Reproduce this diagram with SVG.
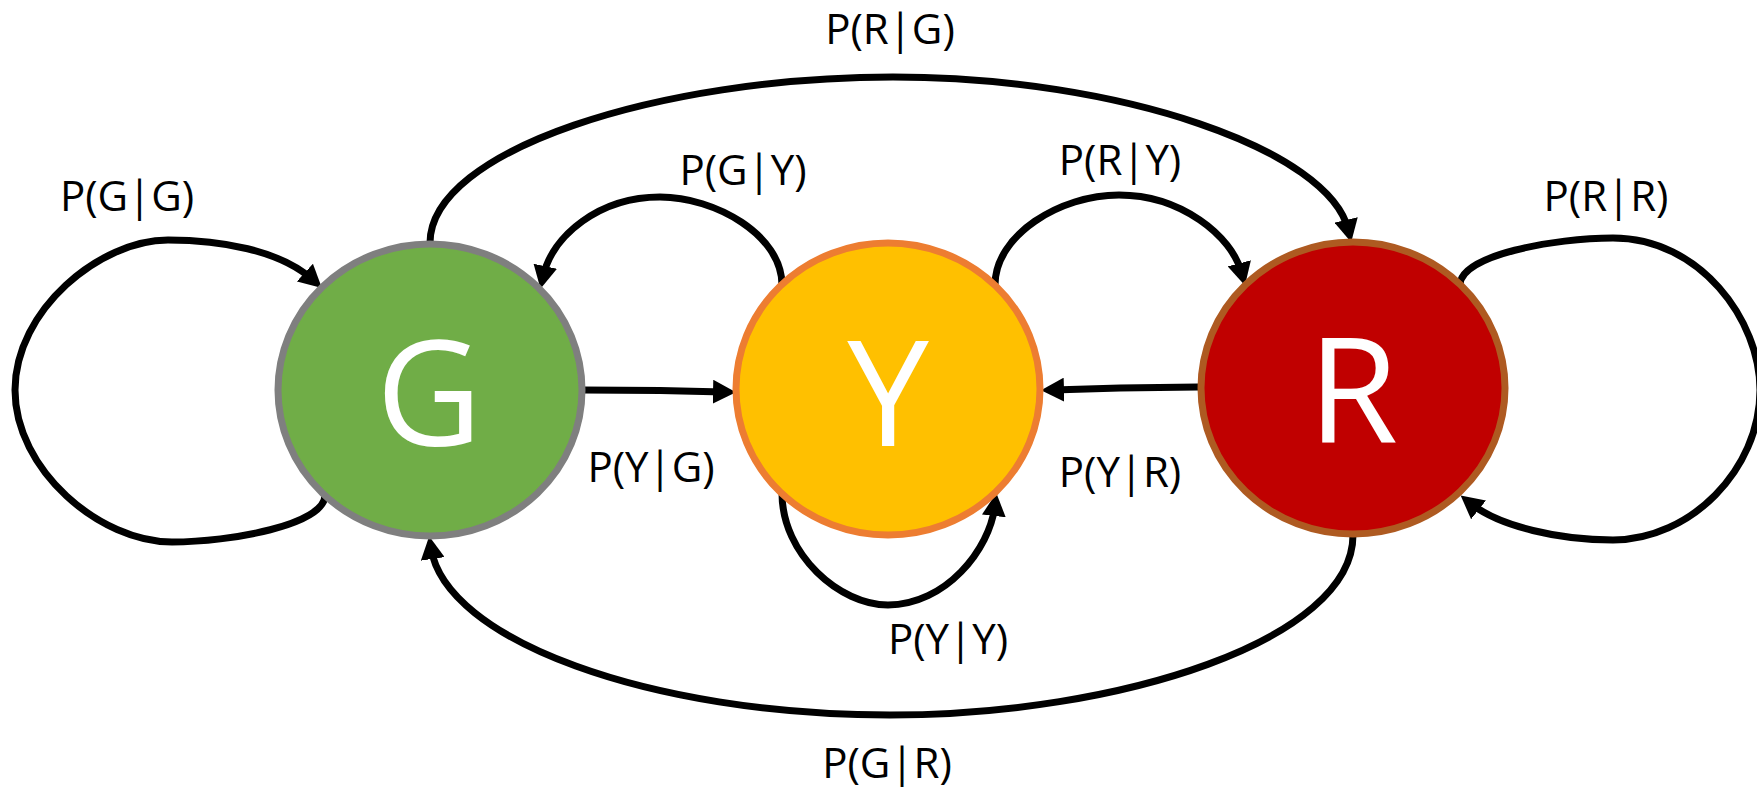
<svg xmlns="http://www.w3.org/2000/svg" width="1757" height="787" viewBox="0 0 1757 787">
<style>
.lbl{font-family:"Open Sans","Noto Sans",sans-serif;font-size:42px;fill:#000;text-anchor:middle}
.big{font-family:"Open Sans","Noto Sans",sans-serif;font-size:146px;fill:#fff;text-anchor:middle}
.edge{fill:none;stroke:#000;stroke-width:7;marker-end:url(#arr)}
.node{stroke-width:7}
</style>
<defs>
<marker id="arr" markerUnits="userSpaceOnUse" markerWidth="24" markerHeight="24" refX="11" refY="12" orient="auto" viewBox="0 0 24 24">
<path d="M0,0 L23,12 L0,24 z" fill="#000"/>
</marker>
</defs>
<rect width="1757" height="787" fill="#fff"/>
<g id="connectors">
<path class="edge" d="M325 495 C325 525 230 542 172 542 C100 542 15 470 15 390 C15 310 100 240 168 240 C220 240 280 250 313 280"/>
<path class="edge" d="M583 390 L660 390.5 L724 392"/>
<path class="edge" d="M1198 387 L1120 388 L1053 390"/>
<path class="edge" d="M782 285 C782 235 715 197 660 197 C600 197 552 235 543 277"/>
<path class="edge" d="M995 285 C995 235 1060 195 1119 195 C1180 195 1232 235 1242 274"/>
<path class="edge" d="M430 243 C430 150 660 77 893 77 C1120 77 1330 150 1348.5 230.6"/>
<path class="edge" d="M1353 535 C1353 640 1120 715 890 715 C650 715 445 640 431 548"/>
<path class="edge" d="M782 493 C782 555 840 605 888 605 C945 605 990 550 995 505"/>
<path class="edge" d="M1460 285 C1460 255 1555 238 1613 238 C1700 238 1760 320 1760 390 C1760 470 1690 540 1613 540 C1560 540 1500 527 1470 503"/>
</g>
<g id="node-G">
<ellipse class="node" cx="430" cy="390" rx="152" ry="146" fill="#70AD47" stroke="#7F7F7F"/>
<text class="big" x="429" y="446">G</text>
</g>
<g id="node-Y">
<ellipse class="node" cx="888" cy="389" rx="152" ry="146" fill="#FFC000" stroke="#ED7D31"/>
<text class="big" x="888" y="446">Y</text>
</g>
<g id="node-R">
<ellipse class="node" cx="1353" cy="388" rx="152" ry="146" fill="#C00000" stroke="#AE5A21"/>
<text class="big" x="1353" y="443">R</text>
</g>
<g id="labels">
<text class="lbl" x="127" y="211">P(G|G)</text>
<text class="lbl" x="890" y="44">P(R|G)</text>
<text class="lbl" x="743" y="185">P(G|Y)</text>
<text class="lbl" x="1120" y="175">P(R|Y)</text>
<text class="lbl" x="1606" y="211">P(R|R)</text>
<text class="lbl" x="651" y="482">P(Y|G)</text>
<text class="lbl" x="1120" y="487">P(Y|R)</text>
<text class="lbl" x="948" y="654">P(Y|Y)</text>
<text class="lbl" x="887" y="778">P(G|R)</text>
</g>
</svg>
